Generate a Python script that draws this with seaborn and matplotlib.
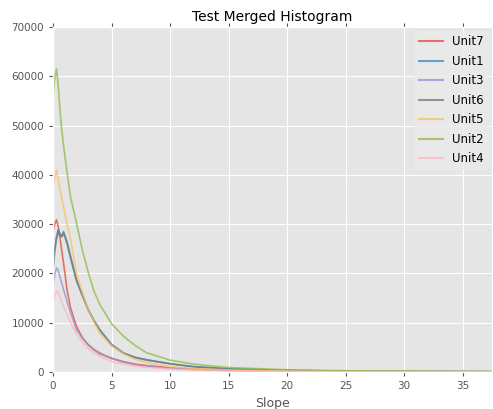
import pandas as pd
import matplotlib
matplotlib.use("Agg")
import matplotlib.pyplot as plt
import seaborn as sns

plt.style.use("ggplot")

# --- data ---
slope = [0, 0.15, 0.3, 0.45, 0.6, 0.75, 0.9, 1.2, 1.5, 2, 2.5, 3, 3.5, 4,
         5, 6, 7, 8, 10, 12, 15, 20, 25, 30, 38]

unit7 = [28500, 30000, 30900, 29500, 27200, 24600, 22100, 16700, 13000, 9300,
         7000, 5500, 4500, 3700, 2800, 2100, 1600, 1300, 850, 600, 350, 180,
         110, 70, 40]
unit1 = [21000, 25000, 27500, 28900, 28000, 27600, 28500, 26500, 23500, 18800,
         15800, 12800, 10500, 8600, 5600, 3900, 3000, 2500, 1700, 1100, 650,
         330, 180, 110, 60]
unit3 = [17400, 19800, 21100, 20600, 19200, 18000, 16700, 14300, 12000, 8600,
         6900, 5600, 4600, 3900, 2700, 2000, 1500, 1150, 750, 520, 300, 150,
         90, 60, 35]
unit6 = [20500, 24500, 27000, 28500, 27700, 27400, 28200, 26000, 23100, 18500,
         15500, 12600, 10300, 8400, 5500, 3800, 2900, 2400, 1650, 1050, 620,
         310, 170, 100, 60]
unit5 = [37500, 39500, 41000, 39000, 37000, 35200, 33600, 30000, 26900, 20100,
         16200, 12800, 10200, 7900, 5300, 3700, 2600, 1900, 1100, 700, 400,
         200, 120, 80, 50]
unit2 = [56000, 59500, 61500, 58000, 53000, 49000, 46000, 40500, 35500, 30300,
         24800, 20300, 16400, 13700, 9800, 7300, 5400, 3900, 2400, 1600, 900,
         450, 250, 150, 80]
unit4 = [14000, 15500, 16400, 16000, 15200, 14200, 13300, 11700, 10000, 7700,
         6100, 4800, 3900, 3200, 2100, 1600, 1200, 950, 620, 430, 250, 130, 80,
         50, 30]

units = ["Unit7", "Unit1", "Unit3", "Unit6", "Unit5", "Unit2", "Unit4"]
series = [unit7, unit1, unit3, unit6, unit5, unit2, unit4]
colors = ["#E24A33", "#348ABD", "#988ED5", "#777777", "#FBC15E", "#8EBA42",
          "#FFB5B8"]

rows = []
for name, vals in zip(units, series):
    for s, v in zip(slope, vals):
        rows.append({"Slope": s, "Count": v, "Unit": name})
df = pd.DataFrame(rows)

fig = plt.figure(figsize=(4.93, 4.09), dpi=100)
ax = fig.add_axes([0.1075, 0.0905, 0.8905, 0.8435])

sns.lineplot(data=df, x="Slope", y="Count", hue="Unit", hue_order=units,
             palette=dict(zip(units, colors)), linewidth=1.2, alpha=0.75,
             ax=ax)

ax.set_xlim(0, 37.5)
ax.set_ylim(0, 70000)
ax.set_xticks([0, 5, 10, 15, 20, 25, 30, 35])
ax.set_yticks([0, 10000, 20000, 30000, 40000, 50000, 60000, 70000])
ax.tick_params(labelsize=7.5, colors="#555555", top=True, length=3)
ax.set_title("Test Merged Histogram", fontsize=10, color="black", pad=4)
ax.set_xlabel("Slope", fontsize=9, color="#555555")
ax.set_ylabel("")

leg = ax.legend(loc="upper right", fontsize=8.5, labelspacing=0.55,
                handlelength=2.0, borderaxespad=0.3, frameon=True)
leg.get_frame().set_facecolor("#EBEBEB")
leg.get_frame().set_edgecolor("#EBEBEB")
for line in leg.get_lines():
    line.set_linewidth(1.5)
    line.set_alpha(0.75)

fig.savefig("out.png", dpi=100)
